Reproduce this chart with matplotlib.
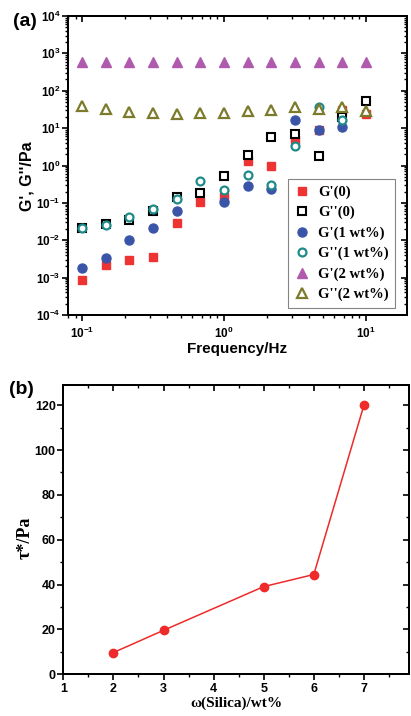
import numpy as np
import matplotlib
matplotlib.use("Agg")
import matplotlib.pyplot as plt
from matplotlib.ticker import FixedLocator, FuncFormatter, LogLocator, NullFormatter, MultipleLocator

plt.rcParams['mathtext.fontset'] = 'custom'
plt.rcParams['mathtext.bf'] = 'Liberation Sans:bold'
plt.rcParams['mathtext.rm'] = 'Liberation Sans:bold'
plt.rcParams['font.family'] = ['Liberation Sans', 'DejaVu Sans']

# ---------------- data (a) ----------------
freq = [0.1, 0.147, 0.215, 0.316, 0.464, 0.681, 1.0, 1.47, 2.15, 3.16, 4.64, 6.81, 10.0]
g1_0 = [8.5e-4, 2.2e-3, 2.9e-3, 3.6e-3, 0.029, 0.107, 0.14, 1.3, 0.95, 4.9, 9.0, 30.0, 24.5]
g2_0 = [0.021, 0.028, 0.035, 0.060, 0.144, 0.18, 0.52, 1.9, 5.7, 7.0, 1.85, 20.0, 52.0]
g1_1 = [1.85e-3, 3.4e-3, 0.0102, 0.021, 0.060, np.nan, 0.105, 0.28, 0.24, 16.0, 9.0, 10.5, np.nan]
g2_1 = [0.021, 0.025, 0.042, 0.068, 0.124, 0.38, 0.22, 0.55, 0.31, 3.4, 36.0, 16.0, np.nan]
g1_2 = [600, 600, 600, 600, 600, 600, 600, 600, 600, 600, 600, 600, 600]
g2_2 = [40, 33, 27.5, 26, 24, 25, 25, 29.5, 31, 37, 32, 37, 29.5]
labels_a = ["G'(0)", "G''(0)", "G'(1 wt%)", "G''(1 wt%)", "G'(2 wt%)", "G''(2 wt%)"]

# ---------------- data (b) ----------------
silica = [2, 3, 5, 6, 7]
tau = [9.7, 19.6, 39.1, 44.5, 120.0]

fig = plt.figure(figsize=(4.11, 7.16), dpi=100)

# ---------- panel a ----------
axa = fig.add_axes([68/411, 1-315/716, (407-68)/411, (315-16)/716])
red = '#ee3333'; blue = '#3a55a8'; teal = '#1f8a8a'; purple = '#b05aae'; olive = '#7b7b2b'
ms = 6.0
axa.plot(freq, g1_0, ls='none', marker='s', ms=ms, mfc=red, mec=red, label=labels_a[0])
axa.plot(freq, g2_0, ls='none', marker='s', ms=ms-0.5, mfc='white', mec='black', mew=1.5, label=labels_a[1])
axa.plot(freq, g1_1, ls='none', marker='o', ms=ms+0.5, mfc=blue, mec=blue, label=labels_a[2])
axa.plot(freq, g2_1, ls='none', marker='o', ms=ms-0.3, mfc='white', mec=teal, mew=1.6, label=labels_a[3])
axa.plot(freq, g1_2, ls='none', marker='^', ms=ms+1, mfc=purple, mec=purple, label=labels_a[4])
axa.plot(freq, g2_2, ls='none', marker='^', ms=ms+0.5, mfc='white', mec=olive, mew=1.6, label=labels_a[5])
axa.set_xscale('log'); axa.set_yscale('log')
axa.set_xlim(0.0796, 19.5)
axa.set_ylim(1e-4, 1e4)
axa.yaxis.set_major_locator(FixedLocator([10.0**k for k in range(-4, 5)]))
axa.yaxis.set_minor_locator(LogLocator(base=10, subs=np.arange(2, 10)*1.0, numticks=20))
axa.xaxis.set_major_locator(FixedLocator([0.1, 1, 10]))
axa.xaxis.set_minor_locator(LogLocator(base=10, subs=np.arange(2, 10)*1.0, numticks=20))
fmt = FuncFormatter(lambda v, p: r'$\mathbf{10^{%d}}$' % int(round(np.log10(v))))
axa.yaxis.set_major_formatter(fmt)
axa.xaxis.set_major_formatter(fmt)
axa.yaxis.set_minor_formatter(NullFormatter())
axa.xaxis.set_minor_formatter(NullFormatter())
for s in axa.spines.values():
    s.set_linewidth(1.3)
axa.tick_params(axis='both', which='major', direction='out', length=4.5, width=1.2, labelsize=8.5)
axa.tick_params(axis='both', which='minor', direction='out', length=2.5, width=1.0)
axa.tick_params(axis='x', which='major', pad=3)
axa.tick_params(axis='y', which='major', pad=1)
axa.set_xlabel('Frequency/Hz', fontsize=11, fontweight='bold', labelpad=1)
axa.set_ylabel("G', G''/Pa", fontsize=11.5, fontweight='bold')
axa.yaxis.set_label_coords(-0.100, 0.465)
# mirrored top/right
tx = axa.twiny(); tx.set_xscale('log'); tx.set_xlim(axa.get_xlim())
tx.xaxis.set_major_locator(FixedLocator([0.1, 1, 10]))
tx.xaxis.set_minor_locator(LogLocator(base=10, subs=np.arange(2, 10)*1.0, numticks=20))
tx.xaxis.set_major_formatter(NullFormatter()); tx.xaxis.set_minor_formatter(NullFormatter())
tx.tick_params(axis='x', which='major', direction='in', length=4.5, width=1.2, labeltop=False)
tx.tick_params(axis='x', which='minor', direction='in', length=2.5, width=1.0, labeltop=False)
ty = axa.twinx(); ty.set_yscale('log'); ty.set_ylim(axa.get_ylim())
ty.yaxis.set_major_locator(FixedLocator([10.0**k for k in range(-4, 5)]))
ty.yaxis.set_minor_locator(LogLocator(base=10, subs=np.arange(2, 10)*1.0, numticks=20))
ty.yaxis.set_major_formatter(NullFormatter()); ty.yaxis.set_minor_formatter(NullFormatter())
ty.tick_params(axis='y', which='major', direction='in', length=4.5, width=1.2, labelright=False)
ty.tick_params(axis='y', which='minor', direction='in', length=2.5, width=1.0, labelright=False)
for t in (tx, ty):
    for s in t.spines.values():
        s.set_linewidth(1.3)
leg = axa.legend(loc='lower left', bbox_to_anchor=(0.649, 0.024), frameon=True, fancybox=False,
                 prop={'family': 'Liberation Serif', 'weight': 'bold', 'size': 10.5},
                 handlelength=1.0, handletextpad=0.6, labelspacing=0.48, borderpad=0.45,
                 borderaxespad=0)
leg.get_frame().set_edgecolor('#666666')
leg.get_frame().set_linewidth(0.8)
leg.set_zorder(10)
fig.text(25/411, 1-22/716, '(a)', fontsize=14, fontweight='bold', ha='center', va='center')

# ---------- panel b ----------
axb = fig.add_axes([63.3/411, 1-674.3/716, (409-63.3)/411, (674.3-385)/716])
axb.plot(silica, tau, color='#ee2a2a', lw=1.1, marker='o', ms=6, mfc='#ee2a2a', mec='#ee2a2a')
axb.set_xlim(1, 7.9)
axb.set_ylim(0, 129)
axb.xaxis.set_major_locator(MultipleLocator(1))
axb.xaxis.set_minor_locator(MultipleLocator(0.5))
axb.yaxis.set_major_locator(FixedLocator([0, 20, 40, 60, 80, 100, 120]))
axb.yaxis.set_minor_locator(FixedLocator([10, 30, 50, 70, 90, 110]))
for s in axb.spines.values():
    s.set_linewidth(1.3)
axb.tick_params(axis='both', which='major', direction='out', length=4.5, width=1.2, labelsize=9)
axb.tick_params(axis='both', which='minor', direction='out', length=2.5, width=1.0)
for lab in axb.get_xticklabels() + axb.get_yticklabels():
    lab.set_fontweight('bold')
axb.tick_params(axis='y', which='major', pad=1)
axb.tick_params(axis='x', which='major', pad=2)
axb.set_xlabel('ω(Silica)/wt%', fontsize=11, fontweight='bold', family=['Liberation Serif', 'DejaVu Serif'], labelpad=1)
axb.set_ylabel('τ*/Pa', fontsize=13, fontweight='bold', family=['Liberation Serif', 'DejaVu Serif'])
axb.yaxis.set_label_coords(-0.085, 0.471)
bx = axb.twiny(); bx.set_xlim(axb.get_xlim())
bx.xaxis.set_major_locator(MultipleLocator(1))
bx.xaxis.set_minor_locator(MultipleLocator(0.5))
bx.tick_params(axis='x', which='both', direction='in', labeltop=False)
bx.tick_params(axis='x', which='major', length=4.5, width=1.2)
bx.tick_params(axis='x', which='minor', length=2.5, width=1.0)
by = axb.twinx(); by.set_ylim(axb.get_ylim())
by.yaxis.set_major_locator(FixedLocator([0, 20, 40, 60, 80, 100, 120]))
by.yaxis.set_minor_locator(FixedLocator([10, 30, 50, 70, 90, 110]))
by.tick_params(axis='y', which='both', direction='in', labelright=False)
by.tick_params(axis='y', which='major', length=4.5, width=1.2)
by.tick_params(axis='y', which='minor', length=2.5, width=1.0)
for t in (bx, by):
    for s in t.spines.values():
        s.set_linewidth(1.3)
fig.text(21/411, 1-390/716, '(b)', fontsize=14, fontweight='bold', ha='center', va='center')

fig.savefig('out.png', dpi=100)
